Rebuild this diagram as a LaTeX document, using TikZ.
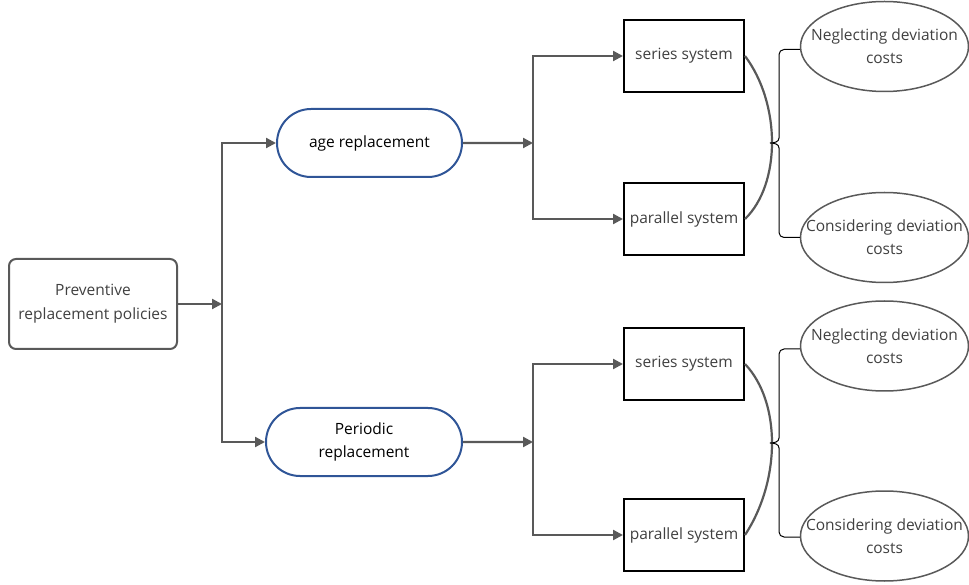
\documentclass[tikz,border=0pt]{standalone}
\usepackage{fontspec}
\setmainfont{Open Sans}
\usetikzlibrary{arrows.meta,shapes.geometric,shapes.misc}
\definecolor{lgray}{HTML}{595959}
\definecolor{tgray}{HTML}{404040}
\definecolor{dblue}{HTML}{2F5597}
\begin{document}
\begin{tikzpicture}[x=1pt,y=1pt,
        every node/.style={font=\fontsize{15.5}{23}\selectfont,align=center,inner sep=0pt,text=tgray},
        box/.style={rectangle,draw=black,line width=2pt,minimum width=120pt,minimum height=72pt},
        pill/.style={rounded rectangle,draw=dblue,line width=2pt,minimum height=68pt,text=black},
        oval/.style={ellipse,draw=lgray,line width=1.5pt,minimum width=168pt,minimum height=90pt},
        wire/.style={draw=lgray,line width=2.2pt},
        conn/.style={wire,-{Triangle[length=10pt,width=10pt]}},
        brace/.style={draw=black,line width=1pt}]
        \useasboundingbox (0,0) rectangle (969,584);
        \node[rectangle,rounded corners=7pt,draw=lgray,line width=2pt,minimum width=168pt,minimum height=90pt,
            font=\fontsize{15.5}{24}\selectfont] (P) at (93,280) {Preventive\\replacement policies};
        \node[pill,minimum width=185pt] (age) at (369.5,441) {age replacement};
        \node[pill,minimum width=196pt] (per) at (364,142) {Periodic\\replacement};
        \coordinate (j1) at (222,280);
        \coordinate (j2) at (533,441);
        \coordinate (j3) at (533,142);
        \node[box] (s1) at (684,528) {series system};
        \node[box] (p1) at (684,365) {parallel system};
        \node[box] (s2) at (684,220) {series system};
        \node[box] (p2) at (684,49) {parallel system};
        \node[oval,label={center:{Neglecting deviation\\costs}}] (n1) at (884.5,537.5) {};
        \node[oval,label={center:{Considering deviation\\costs}}] (c1) at (884.5,346.5) {};
        \node[oval,label={center:{Neglecting deviation\\costs}}] (n2) at (884.5,238) {};
        \node[oval,label={center:{Considering deviation\\costs}}] (c2) at (884.5,48) {};
        \coordinate (t1) at (770,441);
        \coordinate (t2) at (770,141);
        % left part
        \draw[conn] (P) -- (j1);
        \draw[conn] (j1) |- (age);
        \draw[conn] (j1) |- (per);
        \draw[conn] (age) -- (j2);
        \draw[conn] (per) -- (j3);
        \draw[conn] (j2) |- (s1);
        \draw[conn] (j2) |- (p1);
        \draw[conn] (j3) |- (s2);
        \draw[conn] (j3) |- (p2);
        % arcs and braces
        \draw[wire] (s1.east) .. controls (781,480) and (781,400) .. (p1.east);
        \draw[wire] (s2.east) .. controls (781,182) and (781,104) .. (p2.east);
        \draw[brace] ([yshift=-3pt]n1.west) -- (784,534.5) to[out=180,in=90] (779,529.5) -- (779,446) to[out=-90,in=0] (t1)
            to[out=0,in=90] (779,436) -- (779,351.5) to[out=-90,in=180] (784,346.5) -- (c1.west);
        \draw[brace] ([yshift=-3pt]n2.west) -- (784,235) to[out=180,in=90] (779,230) -- (779,146) to[out=-90,in=0] (t2)
            to[out=0,in=90] (779,136) -- (779,52) to[out=-90,in=180] (784,47) -- ([yshift=-1pt]c2.west);
\end{tikzpicture}
\end{document}
